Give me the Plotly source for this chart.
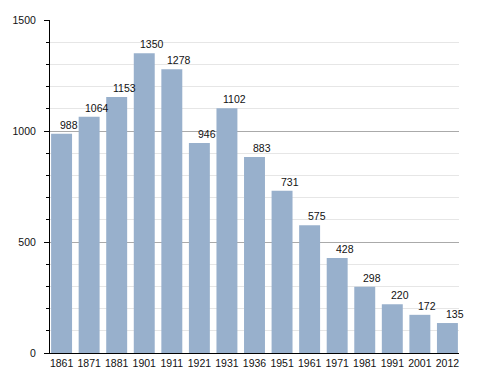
import plotly.graph_objects as go

years = ["1861", "1871", "1881", "1901", "1911", "1921", "1931", "1936",
         "1951", "1961", "1971", "1981", "1991", "2001", "2012"]
population = [988, 1064, 1153, 1350, 1278, 946, 1102, 883,
              731, 575, 428, 298, 220, 172, 135]
y_ticks = [0, 500, 1000, 1500]

bar_color = "#98b0cc"

fig = go.Figure()
fig.add_trace(go.Bar(
    x=years, y=population,
    marker=dict(color=bar_color, line=dict(width=0)),
    hoverinfo="x+y",
))

for i, v in enumerate(population):
    fig.add_annotation(
        x=i, y=v, text=str(v), showarrow=False,
        xanchor="center", yanchor="bottom", xshift=7.5, yshift=1,
        font=dict(family="Liberation Sans, Arial, sans-serif", size=10.5, color="#111111"),
    )

fig.update_layout(
    width=488, height=373, autosize=False,
    margin=dict(l=50, r=29, t=20, b=20),
    paper_bgcolor="white", plot_bgcolor="white",
    bargap=0.24,
    showlegend=False,
    font=dict(family="Liberation Sans, Arial, sans-serif", size=10, color="#111111"),
)
fig.update_xaxes(
    type="category", range=[-0.42, 14.42], automargin=False,
    showline=True, linecolor="black", linewidth=1,
    ticks="", showgrid=False,
    tickfont=dict(family="Liberation Sans Narrow, Arial Narrow, Liberation Sans, sans-serif", size=10.5, color="#111111"),
)
fig.update_yaxes(
    range=[0, 1500], tickvals=y_ticks, automargin=False,
    showline=True, linecolor="black", linewidth=1,
    ticks="outside", ticklen=5, tickcolor="black", tickwidth=1,
    ticklabelstandoff=6,
    showgrid=True, gridcolor="#aaaaaa", gridwidth=1,
    zeroline=False,
    minor=dict(dtick=100, showgrid=True, gridcolor="#e6e6e6", gridwidth=1,
               ticks="outside", ticklen=3, tickcolor="black"),
    tickfont=dict(family="Liberation Sans, Arial, sans-serif", size=10.5, color="#111111"),
)

fig.write_html("out.html", config={"displayModeBar": False},
               post_script="document.body.style.margin='0';")
